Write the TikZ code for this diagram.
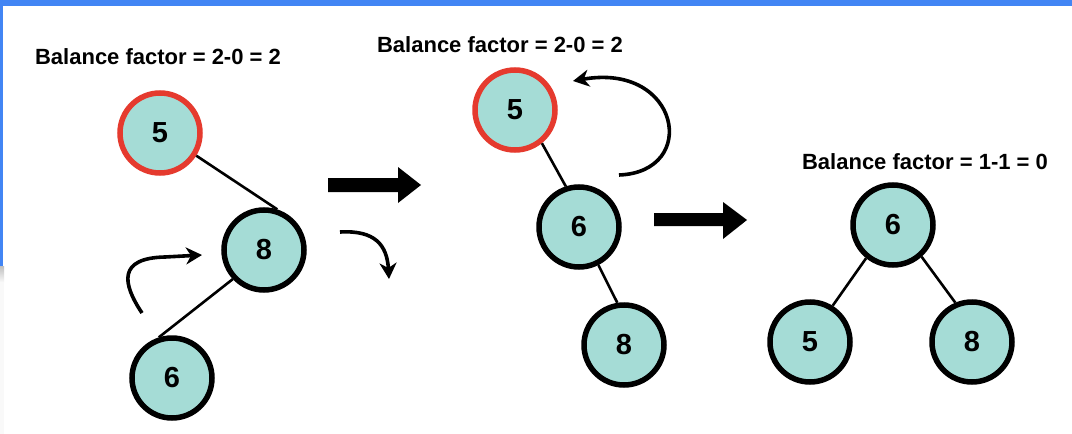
\documentclass[tikz,border=0pt]{standalone}
\usepackage{fontspec}
\setmainfont{Liberation Sans}
\usetikzlibrary{arrows.meta}
\definecolor{nodefill}{HTML}{A5DCD6}
\definecolor{redring}{HTML}{E53A2E}
\definecolor{topblue}{HTML}{4285F4}
\begin{document}
\begin{tikzpicture}[x=1pt,y=-1pt,
  tnode/.style={circle,draw=black,line width=5.5pt,fill=nodefill,minimum size=80pt,inner sep=0pt,font=\fontsize{29}{30}\selectfont\bfseries},
  rednode/.style={tnode,draw=redring},
  treeedge/.style={line width=2.6pt},
  curvearrow/.style={line width=3.6pt,-{Stealth[length=16pt,width=17pt,inset=5pt]}},
  bftext/.style={font=\fontsize{22}{24}\selectfont\bfseries},
  fatarrow/.style={fill=black}]
\useasboundingbox (0,0) rectangle (1072,434);
\fill[white] (0,0) rectangle (1072,434);
\fill[topblue] (0,0) rectangle (1072,6);
\fill[topblue] (0,0) rectangle (3,266);
\shade[top color=gray!50,bottom color=gray!5] (0,266) rectangle (4,282);
\fill[gray!5] (0,282) rectangle (4,434);

% diagram 1
\node[bftext] (bf1) at (158,57) {Balance factor = 2-0 = 2};
\node[rednode] (a5) at (160,133) {5};
\node[tnode] (a8) at (264,250) {8};
\node[tnode] (a6) at (172,378) {6};
\draw[treeedge] (a5.-32) -- (a8.72);
\draw[treeedge] (a8.223) -- (a6.108);
\coordinate (c1s) at (142,313);
\coordinate (c1e) at (202,255);
\draw[curvearrow] (c1s) .. controls (122,283) and (118,258) .. (165,257) -- (c1e);
\coordinate (c2s) at (340,232);
\coordinate (c2e) at (389,279);
\draw[curvearrow] (c2s) .. controls (375,230) and (387,245) .. (c2e);
\fill[fatarrow] (328,178) -- (398,178) -- (398,167) -- (421,185) -- (398,203) -- (398,192) -- (328,192) -- cycle;

% diagram 2
\node[bftext] (bf2) at (500,45) {Balance factor = 2-0 = 2};
\node[rednode] (b5) at (515,110) {5};
\node[tnode] (b6) at (579,227) {6};
\node[tnode] (b8) at (624,345) {8};
\draw[treeedge] (b5.-51) -- (b6.108);
\draw[treeedge] (b6.-63) -- (b8.99);
\coordinate (c3s) at (619,175);
\coordinate (c3e) at (573,81);
\draw[curvearrow] (c3s) .. controls (700,172) and (680,62) .. (c3e);
\fill[fatarrow] (654,213) -- (723,213) -- (723,202) -- (747,220) -- (723,239) -- (723,226) -- (654,226) -- cycle;

% diagram 3
\node[bftext] (bf3) at (925,162) {Balance factor = 1-1 = 0};
\node[tnode] (d6) at (893,225) {6};
\node[tnode] (d5) at (810,342) {5};
\node[tnode] (d8) at (972,342) {8};
\draw[treeedge] (d6.231) -- (d5.58);
\draw[treeedge] (d6.-48) -- (d8.113);
\end{tikzpicture}
\end{document}
